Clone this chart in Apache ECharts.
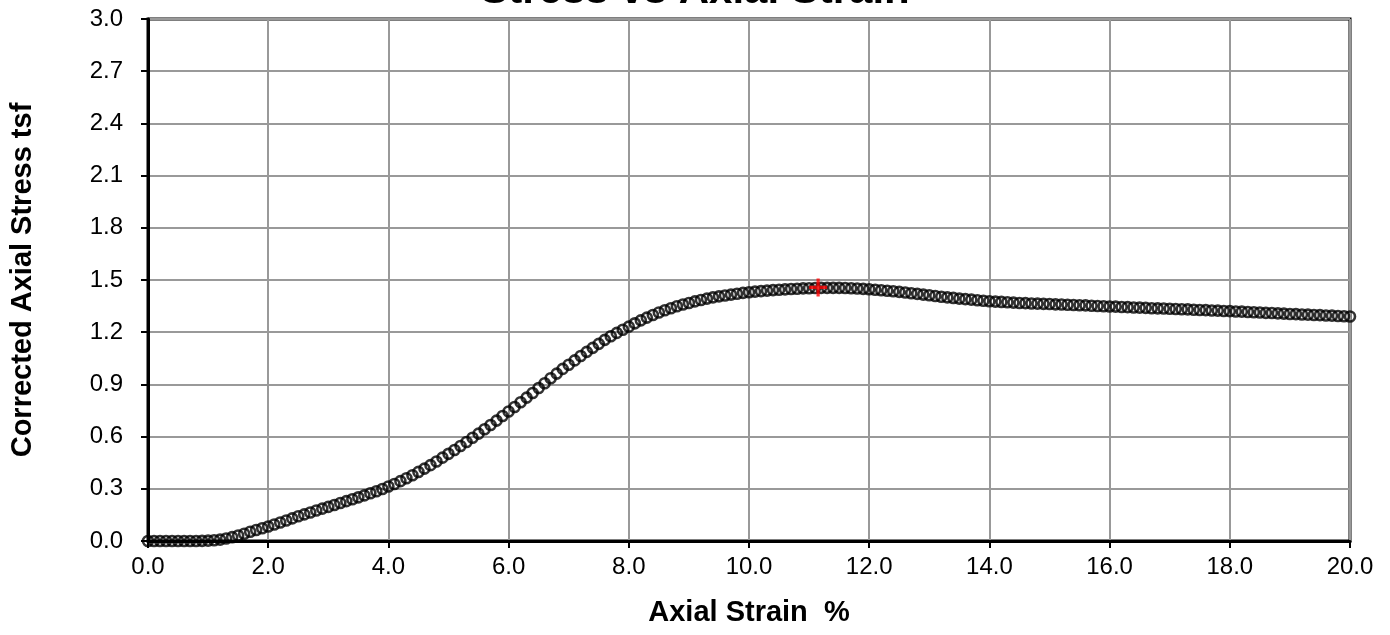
<!DOCTYPE html>
<html>
<head>
<meta charset="utf-8">
<script src="https://cdn.jsdelivr.net/npm/echarts@6/dist/echarts.min.js"></script>
<style>
html,body{margin:0;padding:0;background:#fff;}
#chart{width:1390px;height:635px;}
</style>
</head>
<body>
<div id="chart"></div>
<script>
var chartTitle = 'Stress vs Axial Strain';
var xAxisTitle = 'Axial Strain  %';
var yAxisTitle = 'Corrected Axial Stress tsf';

var strain = [
0.0,0.1,0.2,0.3,0.4,0.5,0.6,0.7,0.8,0.9,
1.0,1.1,1.2,1.3,1.4,1.5,1.6,1.7,1.8,1.9,
2.0,2.1,2.2,2.3,2.4,2.5,2.6,2.7,2.8,2.9,
3.0,3.1,3.2,3.3,3.4,3.5,3.6,3.7,3.8,3.9,
4.0,4.1,4.2,4.3,4.4,4.5,4.6,4.7,4.8,4.9,
5.0,5.1,5.2,5.3,5.4,5.5,5.6,5.7,5.8,5.9,
6.0,6.1,6.2,6.3,6.4,6.5,6.6,6.7,6.8,6.9,
7.0,7.1,7.2,7.3,7.4,7.5,7.6,7.7,7.8,7.9,
8.0,8.1,8.2,8.3,8.4,8.5,8.6,8.7,8.8,8.9,
9.0,9.1,9.2,9.3,9.4,9.5,9.6,9.7,9.8,9.9,
10.0,10.1,10.2,10.3,10.4,10.5,10.6,10.7,10.8,10.9,
11.0,11.1,11.2,11.3,11.4,11.5,11.6,11.7,11.8,11.9,
12.0,12.1,12.2,12.3,12.4,12.5,12.6,12.7,12.8,12.9,
13.0,13.1,13.2,13.3,13.4,13.5,13.6,13.7,13.8,13.9,
14.0,14.1,14.2,14.3,14.4,14.5,14.6,14.7,14.8,14.9,
15.0,15.1,15.2,15.3,15.4,15.5,15.6,15.7,15.8,15.9,
16.0,16.1,16.2,16.3,16.4,16.5,16.6,16.7,16.8,16.9,
17.0,17.1,17.2,17.3,17.4,17.5,17.6,17.7,17.8,17.9,
18.0,18.1,18.2,18.3,18.4,18.5,18.6,18.7,18.8,18.9,
19.0,19.1,19.2,19.3,19.4,19.5,19.6,19.7,19.8,19.9,
20.0
];

var stress = [
0.000,0.000,0.000,0.000,0.000,0.000,0.000,0.000,0.000,0.001,
0.002,0.004,0.008,0.014,0.022,0.032,0.042,0.053,0.063,0.073,
0.083,0.095,0.106,0.118,0.130,0.142,0.153,0.164,0.175,0.186,
0.196,0.207,0.218,0.229,0.240,0.251,0.262,0.274,0.286,0.299,
0.313,0.328,0.344,0.361,0.378,0.397,0.416,0.436,0.457,0.479,
0.501,0.523,0.546,0.569,0.593,0.617,0.642,0.667,0.692,0.718,
0.744,0.770,0.797,0.824,0.851,0.879,0.907,0.935,0.962,0.989,
1.013,1.038,1.063,1.087,1.110,1.133,1.156,1.177,1.196,1.214,
1.232,1.251,1.268,1.284,1.299,1.313,1.326,1.338,1.349,1.359,
1.368,1.377,1.385,1.393,1.400,1.406,1.411,1.416,1.421,1.426,
1.430,1.433,1.436,1.439,1.442,1.444,1.446,1.448,1.450,1.452,
1.453,1.454,1.455,1.455,1.455,1.455,1.454,1.453,1.451,1.449,
1.447,1.444,1.441,1.438,1.435,1.432,1.428,1.424,1.420,1.416,
1.412,1.408,1.404,1.400,1.397,1.393,1.390,1.387,1.384,1.381,
1.378,1.376,1.374,1.372,1.370,1.368,1.367,1.365,1.364,1.363,
1.362,1.360,1.359,1.358,1.356,1.355,1.354,1.352,1.351,1.349,
1.348,1.347,1.345,1.344,1.342,1.341,1.340,1.338,1.337,1.336,
1.335,1.333,1.332,1.331,1.329,1.328,1.327,1.325,1.324,1.322,
1.321,1.319,1.318,1.316,1.315,1.313,1.311,1.310,1.308,1.307,
1.305,1.304,1.302,1.301,1.299,1.298,1.296,1.295,1.293,1.292,
1.290
];

var peakStrain = [11.15];
var peakStress = [1.457];

var points = strain.map(function (x, i) { return [x, stress[i]]; });
var peak = peakStrain.map(function (x, i) { return [x, peakStress[i]]; });

var FONT = '"Liberation Sans", Arial, sans-serif';

var chart = echarts.init(document.getElementById('chart'), null, {renderer: 'canvas'});
chart.setOption({
  animation: false,
  backgroundColor: '#ffffff',
  title: {
    text: chartTitle,
    left: 'center',
    top: -35,
    textStyle: {fontFamily: FONT, fontSize: 42, fontWeight: 'bold', color: '#000'}
  },
  grid: {
    left: 147, right: 40, top: 19, bottom: 94,
    show: true, borderColor: '#000', borderWidth: 3, backgroundColor: '#fff'
  },
  xAxis: {
    type: 'value', min: 0, max: 20, interval: 2,
    name: xAxisTitle, nameLocation: 'middle', nameGap: 57,
    nameTextStyle: {fontFamily: FONT, fontSize: 29, fontWeight: 'bold', color: '#000'},
    axisLine: {show: true, onZero: false, lineStyle: {color: '#000', width: 3}},
    axisTick: {show: true, inside: false, length: 7, lineStyle: {color: '#000', width: 2}},
    axisLabel: {fontFamily: FONT, fontSize: 24, color: '#000', margin: 14,
      formatter: function (v) { return v.toFixed(1); }},
    splitLine: {show: true, lineStyle: {color: '#999999', width: 2}}
  },
  yAxis: {
    type: 'value', min: 0, max: 3, interval: 0.3,
    name: yAxisTitle, nameLocation: 'middle', nameGap: 111, nameRotate: 90,
    nameTextStyle: {fontFamily: FONT, fontSize: 29, fontWeight: 'bold', color: '#000'},
    axisLine: {show: true, onZero: false, lineStyle: {color: '#000', width: 3}},
    axisTick: {show: true, inside: false, length: 7, lineStyle: {color: '#000', width: 2}},
    axisLabel: {fontFamily: FONT, fontSize: 24, color: '#000', margin: 25,
      formatter: function (v) { return v.toFixed(1); }},
    splitLine: {show: true, lineStyle: {color: '#999999', width: 2}}
  },
  series: [
    {
      type: 'scatter',
      data: points,
      symbol: 'circle',
      symbolSize: 10,
      clip: false,
      itemStyle: {color: 'rgba(255,255,255,0)', borderColor: '#000', borderWidth: 2.6},
      z: 3
    },
    {
      type: 'scatter',
      data: peak,
      symbol: 'path://M4.1,0H5.9V4.1H10V5.9H5.9V10H4.1V5.9H0V4.1H4.1Z',
      symbolSize: 18,
      itemStyle: {color: '#ff0000'},
      z: 5
    }
  ]
});
</script>
</body>
</html>
